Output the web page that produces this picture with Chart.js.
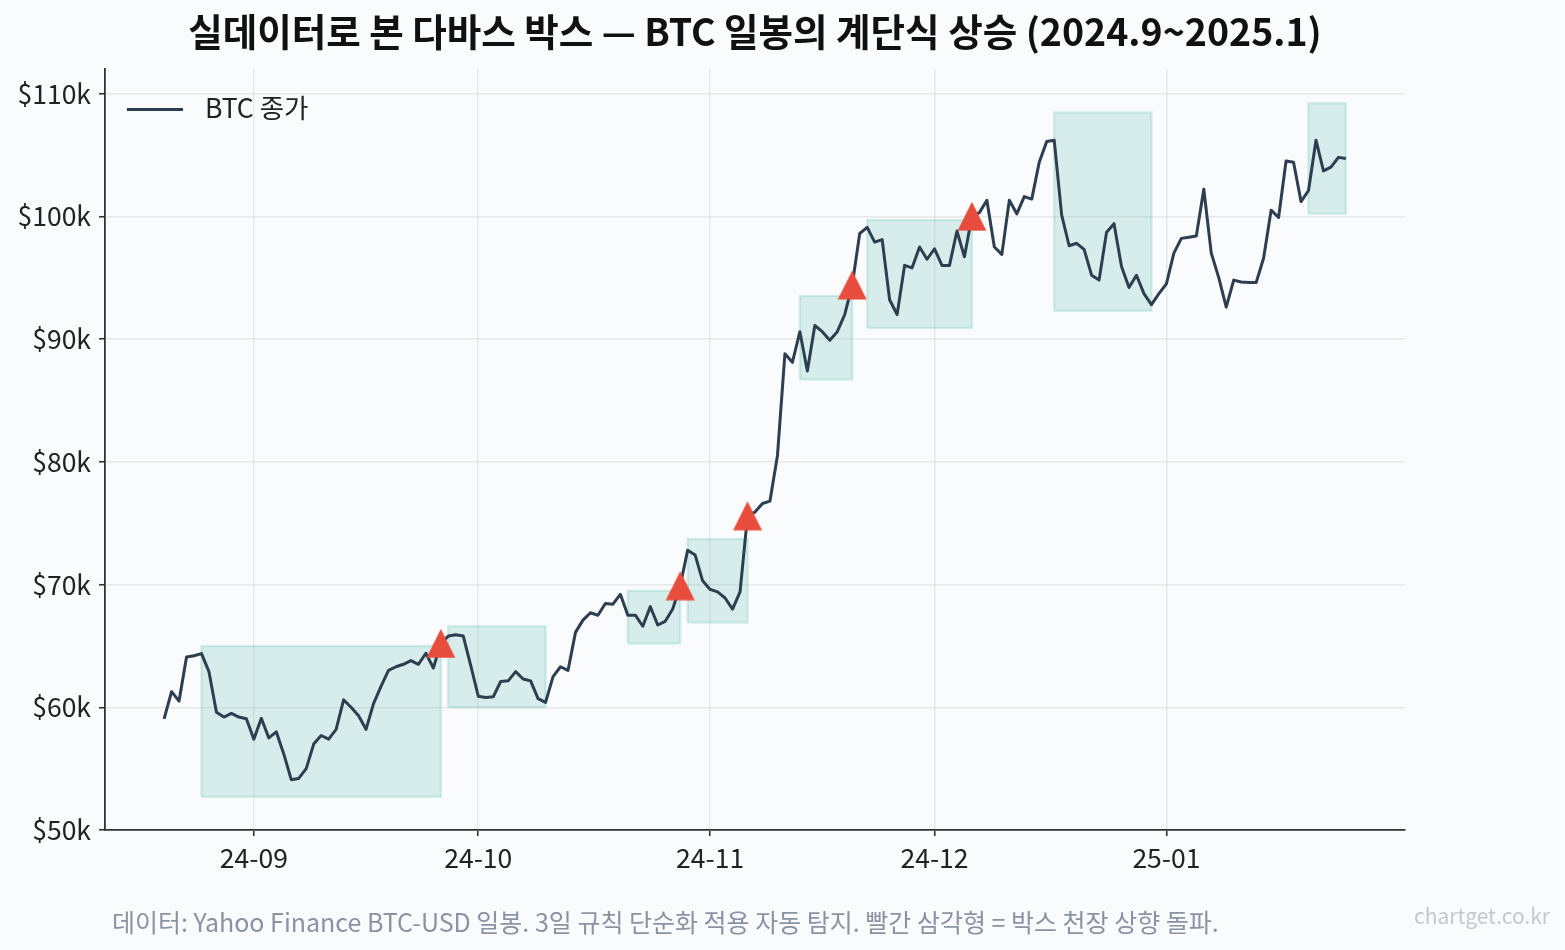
<!DOCTYPE html>
<html><head><meta charset="utf-8">
<script src="https://cdn.jsdelivr.net/npm/chart.js@4.4.1/dist/chart.umd.min.js"></script>
<style>
html,body{margin:0;padding:0;background:#fafbfd;}
#wrap{position:relative;width:1565px;height:950px;overflow:hidden;}
#c{position:absolute;left:0;top:0;}
#title{position:absolute;left:105px;width:1300px;top:8px;line-height:44px;text-align:center;font-family:'Noto Sans CJK KR';font-weight:bold;font-size:37.5px;color:#111;white-space:nowrap;}
#legend{position:absolute;left:127px;top:92px;height:30px;line-height:30px;font-family:'Noto Sans CJK KR';font-size:26.5px;color:#222;white-space:nowrap;}
#legend .sw{display:inline-block;width:56px;height:3px;background:#2c3e50;vertical-align:middle;margin-right:22px;position:relative;top:-1px;}
#foot{position:absolute;left:112px;top:906px;line-height:30px;font-family:'Noto Sans CJK KR';font-size:25px;color:#8a93a3;white-space:nowrap;}
#mark{position:absolute;right:15px;top:902px;line-height:26px;font-family:'Noto Sans CJK KR';font-size:21px;color:#c3c8d0;white-space:nowrap;}
</style></head>
<body>
<div id="wrap">
<canvas id="c" width="1565" height="950"></canvas>
<div id="title">실데이터로 본 다바스 박스 — BTC 일봉의 계단식 상승 (2024.9~2025.1)</div>
<div id="legend"><span class="sw"></span>BTC 종가</div>
<div id="foot">데이터: Yahoo Finance BTC-USD 일봉. 3일 규칙 단순화 적용 자동 탐지. 빨간 삼각형 = 박스 천장 상향 돌파.</div>
<div id="mark">chartget.co.kr</div>
</div>
<script>
// ---- data ----
const dates = [
'2024-08-20','2024-08-21','2024-08-22','2024-08-23','2024-08-24','2024-08-25','2024-08-26','2024-08-27','2024-08-28','2024-08-29','2024-08-30','2024-08-31',
'2024-09-01','2024-09-02','2024-09-03','2024-09-04','2024-09-05','2024-09-06','2024-09-07','2024-09-08','2024-09-09','2024-09-10',
'2024-09-11','2024-09-12','2024-09-13','2024-09-14','2024-09-15','2024-09-16','2024-09-17','2024-09-18','2024-09-19','2024-09-20',
'2024-09-21','2024-09-22','2024-09-23','2024-09-24','2024-09-25','2024-09-26','2024-09-27','2024-09-28','2024-09-29','2024-09-30',
'2024-10-01','2024-10-02','2024-10-03','2024-10-04','2024-10-05','2024-10-06','2024-10-07','2024-10-08','2024-10-09','2024-10-10',
'2024-10-11','2024-10-12','2024-10-13','2024-10-14','2024-10-15','2024-10-16','2024-10-17','2024-10-18','2024-10-19','2024-10-20',
'2024-10-21','2024-10-22','2024-10-23','2024-10-24','2024-10-25','2024-10-26','2024-10-27','2024-10-28','2024-10-29','2024-10-30','2024-10-31',
'2024-11-01','2024-11-02','2024-11-03','2024-11-04','2024-11-05','2024-11-06','2024-11-07','2024-11-08','2024-11-09','2024-11-10',
'2024-11-11','2024-11-12','2024-11-13','2024-11-14','2024-11-15','2024-11-16','2024-11-17','2024-11-18','2024-11-19','2024-11-20',
'2024-11-21','2024-11-22','2024-11-23','2024-11-24','2024-11-25','2024-11-26','2024-11-27','2024-11-28','2024-11-29','2024-11-30',
'2024-12-01','2024-12-02','2024-12-03','2024-12-04','2024-12-05','2024-12-06','2024-12-07','2024-12-08','2024-12-09','2024-12-10',
'2024-12-11','2024-12-12','2024-12-13','2024-12-14','2024-12-15','2024-12-16','2024-12-17','2024-12-18','2024-12-19','2024-12-20',
'2024-12-21','2024-12-22','2024-12-23','2024-12-24','2024-12-25','2024-12-26','2024-12-27','2024-12-28','2024-12-29','2024-12-30','2024-12-31',
'2025-01-01','2025-01-02','2025-01-03','2025-01-04','2025-01-05','2025-01-06','2025-01-07','2025-01-08','2025-01-09','2025-01-10',
'2025-01-11','2025-01-12','2025-01-13','2025-01-14','2025-01-15','2025-01-16','2025-01-17','2025-01-18','2025-01-19','2025-01-20',
'2025-01-21','2025-01-22','2025-01-23','2025-01-24','2025-01-25'
];
// BTC close, thousand USD
const closeK = [
59.06,61.27,60.5,64.1,64.2,64.37,62.9,59.6,59.2,59.5,59.2,59.06,
57.4,59.1,57.5,58.0,56.2,54.1,54.2,55.0,57.0,57.7,
57.4,58.2,60.6,60.0,59.3,58.2,60.3,61.7,63.0,63.3,
63.5,63.8,63.5,64.4,63.2,65.2,65.8,65.9,65.8,63.4,
60.9,60.8,60.85,62.1,62.15,62.9,62.3,62.15,60.7,60.4,
62.5,63.3,63.0,66.1,67.1,67.7,67.5,68.45,68.4,69.2,
67.5,67.5,66.6,68.2,66.7,67.0,68.0,69.9,72.8,72.4,70.3,
69.6,69.4,68.9,68.0,69.4,75.6,75.9,76.6,76.8,80.5,
88.8,88.1,90.6,87.4,91.1,90.6,89.9,90.6,92.0,94.4,
98.6,99.1,97.9,98.1,93.2,92.0,96.0,95.8,97.5,96.5,
97.35,96.0,96.0,98.8,96.7,100.0,100.3,101.3,97.5,96.9,
101.3,100.2,101.6,101.4,104.4,106.1,106.2,100.1,97.6,97.8,
97.3,95.2,94.8,98.7,99.4,95.9,94.2,95.2,93.7,92.8,93.7,
94.5,97.0,98.2,98.3,98.4,102.2,97.0,95.0,92.6,94.8,
94.65,94.6,94.6,96.6,100.5,99.9,104.5,104.4,101.2,102.1,
106.2,103.7,104.0,104.8,104.7
];
// Darvas boxes
const boxStart  = ['2024-08-25','2024-09-27','2024-10-21','2024-10-29','2024-11-13','2024-11-22','2024-12-17','2025-01-20'];
const boxEnd    = ['2024-09-26','2024-10-10','2024-10-28','2024-11-06','2024-11-20','2024-12-06','2024-12-30','2025-01-25'];
const boxTopK   = [65.0, 66.6, 69.5, 73.7, 93.5, 99.7, 108.45, 109.2];
const boxBottomK= [52.7, 60.0, 65.2, 66.9, 86.7, 90.9, 92.3, 100.2];
// breakout days (close above box ceiling)
const breakoutDates = ['2024-09-26','2024-10-28','2024-11-06','2024-11-20','2024-12-06'];
// axis ticks
const xTickDates  = ['2024-09-01','2024-10-01','2024-11-01','2024-12-01','2025-01-01'];
const xTickLabels = ['24-09','24-10','24-11','24-12','25-01'];
const yTickValues = [50,60,70,80,90,100,110];
const yTickLabels = ['$50k','$60k','$70k','$80k','$90k','$100k','$110k'];

// ---- chart ----
const ts = d => Date.parse(d + 'T00:00:00Z');
const FONT = 'Noto Sans CJK KR';

function makeTri(){
  const c = document.createElement('canvas'); c.width = 30; c.height = 30;
  const g = c.getContext('2d'); g.fillStyle = '#e74c3c';
  g.beginPath(); g.moveTo(15,0.5); g.lineTo(29.5,29.5); g.lineTo(0.5,29.5); g.closePath(); g.fill();
  return c;
}

const boxSets = boxStart.map((s,i)=>({
  type:'line', label:'box'+i,
  data:[{x:ts(s),y:boxBottomK[i]},{x:ts(s),y:boxTopK[i]},{x:ts(boxEnd[i]),y:boxTopK[i]},{x:ts(boxEnd[i]),y:boxBottomK[i]},{x:ts(s),y:boxBottomK[i]}],
  fill:'shape', backgroundColor:'rgba(22,160,133,0.15)', borderColor:'rgba(22,160,133,0.15)',
  borderWidth:2.5, pointRadius:0, tension:0, order:3
}));

const lineSet = {
  type:'line', label:'BTC 종가',
  data: dates.map((d,i)=>({x:ts(d), y:closeK[i]})),
  borderColor:'#2c3e50', backgroundColor:'#2c3e50', borderWidth:3, pointRadius:0,
  tension:0, fill:false, borderJoinStyle:'round', order:2
};

const triSet = {
  type:'line', label:'breakout', showLine:false,
  data: breakoutDates.map(d=>({x:ts(d), y:closeK[dates.indexOf(d)]})),
  pointStyle: makeTri(), pointRadius:15, order:1
};

const gridCol = 'rgba(0,0,0,0.075)';
new Chart(document.getElementById('c'), {
  type:'line',
  data:{ datasets:[triSet, lineSet, ...boxSets] },
  options:{
    responsive:false, devicePixelRatio:1, animation:false,
    layout:{ padding:{ top:69, right:160, left:0, bottom:0 } },
    plugins:{ legend:{display:false}, tooltip:{enabled:false}, title:{display:false} },
    scales:{
      x:{
        type:'linear',
        min: Date.parse('2024-08-12T02:24:00Z'), max: Date.parse('2025-02-01T21:36:00Z'),
        afterBuildTicks: ax => { ax.ticks = xTickDates.map(d=>({value:ts(d)})); },
        afterFit: ax => { ax.height = 120; },
        ticks:{ callback:(v,i)=>xTickLabels[i], font:{family:FONT,size:26.5}, color:'#222', padding:6, maxRotation:0, autoSkip:false },
        grid:{ color:gridCol, lineWidth:1.5, tickLength:6, tickColor:'#333', tickWidth:1.6 },
        border:{ color:'#333', width:1.8 }
      },
      y:{
        type:'linear', min:50, max:112,
        afterBuildTicks: ax => { ax.ticks = yTickValues.map(v=>({value:v})); },
        afterFit: ax => { ax.width = 105; },
        ticks:{ callback:(v,i)=>yTickLabels[i], font:{family:FONT,size:26.5}, color:'#222', padding:8 },
        grid:{ color:gridCol, lineWidth:1.5, tickLength:6, tickColor:'#333', tickWidth:1.6 },
        border:{ color:'#333', width:1.8 }
      }
    }
  }
});
</script>
</body></html>
